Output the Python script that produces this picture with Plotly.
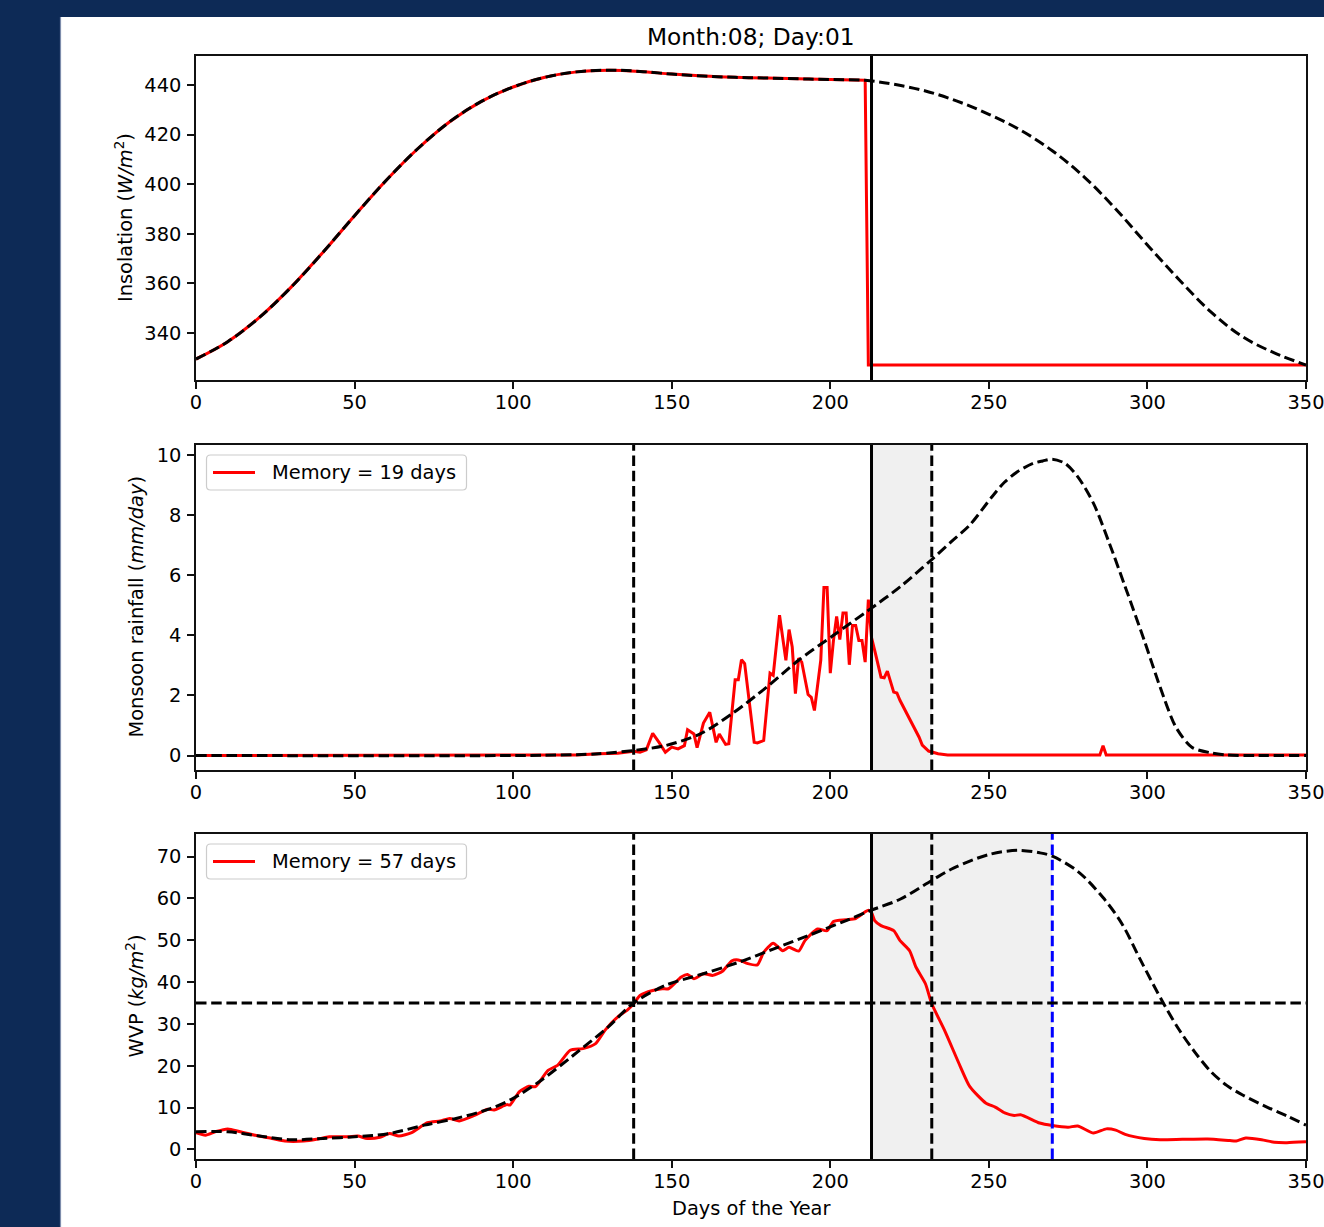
import plotly.graph_objects as go

W, H = 1324, 1227

# ---------------- data ----------------
# Daily-mean insolation (W/m^2): climatology and the run where it is cut after day 211
insol_day = [0, 10, 20, 30, 40, 50, 60, 70, 80, 90, 100, 110, 120, 130, 140,
             150, 160, 170, 180, 190, 200, 211, 220, 230, 240, 250, 260, 270,
             280, 290, 300, 310, 320, 330, 340, 350]
insol_clim = [329.5, 336.5, 346.3, 358.5, 372.5, 387.3, 401.6, 414.4, 425.2,
              433.4, 439.2, 443.1, 445.3, 446.0, 445.5, 444.4, 443.6, 443.1,
              442.8, 442.5, 442.2, 441.9, 440.3, 437.6, 433.5, 428.2, 421.8,
              413.5, 403.0, 390.0, 375.5, 361.5, 348.5, 338.5, 332.0, 327.1]
insol_cut_day = [211, 212, 350]
insol_cut_val = [441.9, 327.1, 327.1]

# Monsoon rainfall (mm/day): climatology
rain_clim_day = [0, 100, 110, 120, 127, 138, 148, 159, 169, 180, 190, 201, 212,
                 222, 232, 238, 244, 251, 255, 259, 264, 267, 270, 274, 278, 283,
                 288, 293, 299, 304, 309, 314, 320, 325, 335, 350]
rain_clim = [0.0, 0.0, 0.01, 0.03, 0.06, 0.17, 0.33, 0.72, 1.39, 2.28, 3.17,
             4.0, 4.83, 5.61, 6.52, 7.1, 7.67, 8.61, 9.1, 9.44, 9.72, 9.8, 9.86,
             9.72, 9.28, 8.39, 7.06, 5.61, 3.83, 2.28, 0.94, 0.28, 0.09, 0.02,
             0.0, 0.0]

# Monsoon rainfall (mm/day): model run
rain_day = [0, 110, 120, 127, 133, 138, 140, 142, 144, 146, 148, 150, 152, 154,
            155, 157, 158, 160, 162, 164, 165, 167, 168, 170, 171, 172, 173, 176,
            177, 179, 181, 182, 184, 186, 187, 188, 189, 190, 191, 193, 194, 195,
            197, 198, 199, 200, 201, 202, 203, 204, 205, 206, 207, 208, 209, 210,
            211, 212, 213, 214, 216, 217, 218, 220, 221, 222, 225, 228, 229, 231,
            234, 237, 285, 286, 287, 350]
rain_run = [0.0, 0.0, 0.02, 0.06, 0.08, 0.14, 0.11, 0.19, 0.74, 0.44, 0.11,
            0.28, 0.22, 0.33, 0.86, 0.72, 0.26, 1.08, 1.44, 0.44, 0.72, 0.37,
            0.39, 2.52, 2.52, 3.19, 3.06, 0.44, 0.42, 0.5, 2.74, 2.67, 4.67,
            3.17, 4.19, 3.61, 2.06, 3.24, 3.11, 2.03, 1.94, 1.5, 3.17, 5.59,
            5.59, 2.74, 3.83, 4.63, 3.86, 4.74, 4.74, 3.02, 4.33, 4.33, 3.83,
            3.83, 3.11, 5.19, 3.92, 3.5, 2.61, 2.59, 2.81, 2.11, 2.08, 1.83,
            1.22, 0.61, 0.35, 0.15, 0.06, 0.02, 0.02, 0.33, 0.02, 0.02]

# Water vapour path (kg/m^2): climatology
wvp_clim_day = [0, 10, 20, 30, 40, 50, 61, 72, 82, 93, 100, 109, 119, 130, 138,
                148, 160, 171, 182, 193, 205, 213, 222, 232, 239, 250, 259, 266,
                270, 278, 286, 292, 298, 305, 310, 315, 320, 325, 330, 338, 344,
                350]
wvp_clim = [4.2, 4.2, 3.2, 2.3, 2.6, 3.0, 3.8, 5.8, 7.4, 9.8, 12.2, 16.6, 22.5,
            29.3, 35.0, 39.2, 42.0, 44.7, 47.9, 51.1, 54.7, 57.2, 59.8, 64.3,
            67.3, 70.5, 71.5, 70.9, 70.1, 66.5, 60.2, 53.9, 45.0, 35.0, 28.6,
            23.2, 18.6, 15.3, 13.0, 10.0, 8.0, 5.8]

# Water vapour path (kg/m^2): model run
wvp_day = [0, 3, 6, 10, 14, 19, 24, 28, 34, 38, 42, 48, 51, 54, 58, 61, 64, 68,
           73, 77, 80, 83, 88, 92, 94, 98, 99, 102, 105, 107, 111, 114, 118, 122,
           126, 129, 133, 136, 138, 140, 144, 147, 149, 153, 155, 157, 160, 163,
           166, 169, 171, 174, 177, 179, 182, 185, 187, 190, 192, 196, 199, 201,
           205, 208, 211, 212, 213, 214, 216, 220, 222, 225, 227, 230, 232, 236,
           241, 244, 249, 252, 255, 258, 260, 266, 270, 275, 278, 283, 287, 290,
           293, 299, 304, 311, 319, 326, 328, 331, 336, 340, 344, 350]
wvp_run = [4.0, 3.4, 4.2, 4.9, 4.2, 3.3, 2.6, 2.0, 2.0, 2.4, 3.0, 3.0, 3.2, 2.6,
           2.9, 3.8, 3.2, 4.0, 6.4, 6.8, 7.4, 6.8, 8.2, 9.6, 9.4, 10.7, 10.6,
           13.8, 15.1, 15.0, 18.9, 20.1, 23.7, 24.1, 25.3, 28.5, 31.7, 33.3,
           34.8, 36.8, 38.0, 38.4, 38.4, 41.2, 41.8, 40.8, 42.0, 41.6, 42.6,
           45.1, 45.3, 44.4, 44.1, 47.1, 49.3, 47.5, 48.3, 47.4, 49.9, 52.7,
           52.3, 54.5, 54.9, 55.2, 56.8, 57.2, 56.6, 54.7, 53.5, 52.3, 49.9,
           47.5, 43.6, 39.6, 34.8, 28.5, 19.8, 15.0, 11.1, 10.1, 8.7, 8.1, 8.3,
           6.3, 5.7, 5.3, 5.6, 3.9, 4.9, 4.6, 3.6, 2.6, 2.3, 2.4, 2.5, 2.1, 2.0,
           2.7, 2.3, 1.7, 1.6, 1.8]

# Key dates and thresholds
current_day = 213          # Month 08, Day 01
onset_day = 138
withdrawal_day = 232
clim_withdrawal_day = 270
wvp_threshold = 35
rain_memory = 19
wvp_memory = 57

x_ticks = [0, 50, 100, 150, 200, 250, 300, 350]
insol_ticks = [340, 360, 380, 400, 420, 440]
rain_ticks = [0, 2, 4, 6, 8, 10]
wvp_ticks = [0, 10, 20, 30, 40, 50, 60, 70]

# ---------------- styling ----------------
FONT = "DejaVu Sans"
RED, BLACK, BLUE = "#ff0000", "#000000", "#0000ff"
LW = 3.0
DASH = "10.5px,4.7px"
TICK_SIZE = 19.4


def fx(px):
    return px / W


def fy(py):
    return 1 - py / H


def sfx(i):
    return "" if i == 1 else str(i)


fig = go.Figure()


def line(x, y, ax, color, dash=None, shape="linear", smoothing=1.0):
    ln = dict(color=color, width=LW, dash=dash, shape=shape)
    if shape == "spline":
        ln["smoothing"] = smoothing
    fig.add_trace(go.Scatter(
        x=x, y=y, mode="lines", xaxis=f"x{sfx(ax)}", yaxis=f"y{sfx(ax)}",
        line=ln, showlegend=False, hoverinfo="skip"))


# Panel 1: insolation
pre_day = [d for d in insol_day if d <= insol_cut_day[0]]
pre_val = insol_clim[:len(pre_day)]
line(pre_day, pre_val, 1, RED, shape="spline")
line(insol_cut_day, insol_cut_val, 1, RED)
line(insol_day, insol_clim, 1, BLACK, dash=DASH, shape="spline")

# Panel 2: rainfall
line(rain_day, rain_run, 2, RED)
line(rain_clim_day, rain_clim, 2, BLACK, dash=DASH, shape="spline", smoothing=0.8)

# Panel 3: water vapour path
line(wvp_day, wvp_run, 3, RED, shape="spline", smoothing=0.6)
line(wvp_clim_day, wvp_clim, 3, BLACK, dash=DASH, shape="spline", smoothing=0.9)

# ---------------- axes ----------------
panels = [(56, 380), (445, 770), (834, 1159)]
y_ranges = [[321.05, 451.7], [-0.48, 10.33], [-2.3, 75.4]]
y_tickvals = [insol_ticks, rain_ticks, wvp_ticks]

axis_style = dict(showline=True, linecolor="#111111", linewidth=1.5, mirror=True,
                  ticks="outside", ticklen=7, tickwidth=1.5, tickcolor="#111111",
                  showgrid=False, zeroline=False, fixedrange=True, automargin=False,
                  tickfont=dict(family=FONT, size=TICK_SIZE, color="black"))

layout_axes = {}
for i, ((top, bot), yr, yt) in enumerate(zip(panels, y_ranges, y_tickvals), 1):
    s = sfx(i)
    layout_axes[f"xaxis{s}"] = dict(axis_style, domain=[fx(196), fx(1306)],
                                    range=[0, 350], tickvals=x_ticks,
                                    anchor=f"y{s}", ticklabelstandoff=-3,
                                    ticklabeloverflow="allow")
    layout_axes[f"yaxis{s}"] = dict(axis_style, domain=[fy(bot), fy(top)],
                                    range=yr, tickvals=yt,
                                    anchor=f"x{s}", ticklabelstandoff=2,
                                    ticklabeloverflow="allow")

# ---------------- reference lines and shading ----------------
shapes = []


def vline(ax, xv, color=BLACK, dash=None):
    shapes.append(dict(type="line", xref=f"x{sfx(ax)}", yref=f"y{sfx(ax)} domain",
                       x0=xv, x1=xv, y0=0, y1=1, layer="above",
                       line=dict(color=color, width=LW, dash=dash)))


def span(ax, a, b):
    shapes.append(dict(type="rect", xref=f"x{sfx(ax)}", yref=f"y{sfx(ax)} domain",
                       x0=a, x1=b, y0=0, y1=1, layer="below",
                       fillcolor="#f0f0f0", line=dict(width=0)))


# white figure panel on the navy page
shapes.append(dict(type="rect", xref="paper", yref="paper", x0=fx(60), x1=1,
                   y0=0, y1=fy(17), layer="below", fillcolor="white",
                   line=dict(width=0)))
shapes.append(dict(type="line", xref="paper", yref="paper", x0=fx(60.5), x1=fx(60.5),
                   y0=0, y1=fy(17), layer="below",
                   line=dict(color="#7d8cab", width=1.2)))

vline(1, current_day)

span(2, current_day, withdrawal_day)
vline(2, onset_day, dash=DASH)
vline(2, current_day)
vline(2, withdrawal_day, dash=DASH)

span(3, current_day, clim_withdrawal_day)
vline(3, onset_day, dash=DASH)
vline(3, current_day)
vline(3, withdrawal_day, dash=DASH)
vline(3, clim_withdrawal_day, color=BLUE, dash=DASH)
shapes.append(dict(type="line", xref="x3 domain", yref="y3", x0=0, x1=1,
                   y0=wvp_threshold, y1=wvp_threshold, layer="above",
                   line=dict(color=BLACK, width=LW, dash=DASH)))


# ---------------- legends (one per lower panel) ----------------
def rounded_box(x0, y0, x1, y1, r=4):
    return (f"M {fx(x0 + r)},{fy(y0)} L {fx(x1 - r)},{fy(y0)} "
            f"Q {fx(x1)},{fy(y0)} {fx(x1)},{fy(y0 + r)} "
            f"L {fx(x1)},{fy(y1 - r)} Q {fx(x1)},{fy(y1)} {fx(x1 - r)},{fy(y1)} "
            f"L {fx(x0 + r)},{fy(y1)} Q {fx(x0)},{fy(y1)} {fx(x0)},{fy(y1 - r)} "
            f"L {fx(x0)},{fy(y0 + r)} Q {fx(x0)},{fy(y0)} {fx(x0 + r)},{fy(y0)} Z")


annotations = []
for (top, _), label in zip(panels[1:], [f"Memory = {rain_memory} days",
                                         f"Memory = {wvp_memory} days"]):
    by0, by1 = top + 10, top + 45
    shapes.append(dict(type="path", xref="paper", yref="paper",
                       path=rounded_box(206.5, by0, 466.5, by1), layer="above",
                       fillcolor="rgba(255,255,255,0.8)",
                       line=dict(color="#cccccc", width=1.2)))
    ym = (by0 + by1) / 2
    shapes.append(dict(type="line", xref="paper", yref="paper",
                       x0=fx(213), x1=fx(255), y0=fy(ym), y1=fy(ym), layer="above",
                       line=dict(color=RED, width=LW)))
    annotations.append(dict(text=label, xref="paper", yref="paper", x=fx(270),
                            y=fy(ym), xanchor="left", yanchor="middle",
                            showarrow=False,
                            font=dict(family=FONT, size=TICK_SIZE, color="black")))

# ---------------- titles ----------------
annotations.append(dict(text="Month:08; Day:01", xref="paper", yref="paper",
                        x=fx(751), y=fy(36), xanchor="center", yanchor="middle",
                        showarrow=False, font=dict(family=FONT, size=23.3, color="black")))
annotations.append(dict(text="Days of the Year", xref="paper", yref="paper",
                        x=fx(751), y=fy(1208), xanchor="center", yanchor="middle",
                        showarrow=False, font=dict(family=FONT, size=TICK_SIZE, color="black")))
y_titles = ["Insolation (<i>W/m</i><sup>2</sup>)",
            "Monsoon rainfall (<i>mm/day</i>)",
            "WVP (<i>kg/m</i><sup>2</sup>)"]
y_title_x = [124, 136, 134]
for (top, bot), txt, xt in zip(panels, y_titles, y_title_x):
    annotations.append(dict(text=txt, xref="paper", yref="paper", x=fx(xt),
                            y=fy((top + bot) / 2), xanchor="center", yanchor="middle",
                            textangle=-90, showarrow=False,
                            font=dict(family=FONT, size=TICK_SIZE, color="black")))

fig.update_layout(
    width=W, height=H, margin=dict(l=0, r=0, t=0, b=0, pad=0),
    paper_bgcolor="#0d2a56", plot_bgcolor="white",
    font=dict(family=FONT, color="black"),
    showlegend=False, shapes=shapes, annotations=annotations,
    **layout_axes,
)

fig.write_html("out.html")
